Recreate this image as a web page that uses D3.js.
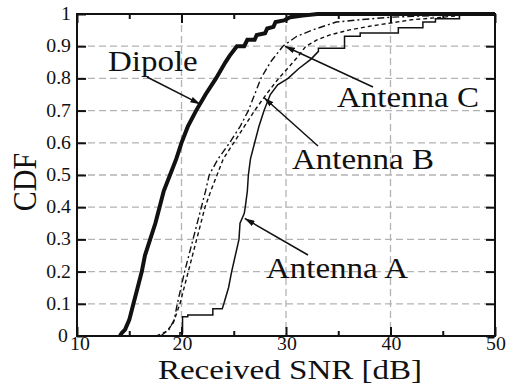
<!DOCTYPE html>
<html>
<head>
<meta charset="utf-8">
<script src="https://cdn.jsdelivr.net/npm/d3@7"></script>
<style>
  html, body { margin: 0; padding: 0; background: #fff; }
  svg { display: block; }
</style>
</head>
<body>
<svg id="chart" width="513" height="385" font-family="'Liberation Serif', 'Times New Roman', Times, serif"></svg>
<script>
// Empirical CDFs of received SNR, points as [SNR dB, CDF]
const dipole = [
  [14.1,0],[14.3,0.01],[14.6,0.02],[15.0,0.05],[15.4,0.1],[15.8,0.15],[16.2,0.2],
  [16.5,0.25],[17.0,0.3],[17.5,0.35],[17.9,0.4],[18.3,0.45],[18.9,0.5],[19.5,0.55],
  [20.0,0.6],[20.6,0.65],[21.4,0.7],[22.3,0.75],[23.3,0.8],[24.2,0.85],[24.6,0.87],
  [25.3,0.9],[26.0,0.9],[26.3,0.92],[27.0,0.92],[27.2,0.935],[28.0,0.94],[28.2,0.955],
  [28.8,0.96],[29.0,0.975],[29.8,0.98],[30.4,0.99],[31.6,0.995],[33.0,1.0],[50,1.0]
];
const antennaA = [
  [19.0,0],[19.85,0],[19.85,0.01],[20.1,0.01],[20.1,0.06],[20.6,0.06],[20.6,0.065],
  [23.0,0.065],[23.0,0.085],[23.9,0.085],[24.05,0.1],[24.5,0.15],[24.8,0.2],[25.15,0.25],
  [25.5,0.3],[25.6,0.35],[26.0,0.38],[26.1,0.4],[26.3,0.45],[26.4,0.5],[26.6,0.55],
  [27.0,0.6],[27.4,0.65],[27.9,0.7],[28.5,0.75],[29.2,0.78],[30.2,0.8],[31.2,0.83],
  [32.4,0.86],[33.1,0.884],[33.1,0.894],[35.6,0.894],[35.6,0.931],[37.1,0.931],
  [37.1,0.941],[40.75,0.941],[40.75,0.957],[43.1,0.957],[43.1,0.975],[44.3,0.975],
  [44.3,0.985],[46.6,0.985],[46.6,0.996],[47.8,0.996],[47.8,1.0],[50,1.0]
];
const antennaB = [
  [17.6,0],[18.6,0.015],[19.2,0.04],[19.85,0.1],[20.65,0.2],[21.45,0.3],[22.25,0.4],
  [22.8,0.45],[23.4,0.5],[24.0,0.55],[25.0,0.6],[26.0,0.65],[27.0,0.7],[28.1,0.75],
  [29.3,0.8],[30.4,0.84],[31.2,0.87],[31.9,0.9],[33.0,0.92],[34.2,0.935],[36.0,0.95],
  [38.0,0.962],[40.0,0.972],[42.0,0.982],[45.0,0.99],[48.0,1.0],[50,1.0]
];
const antennaC = [
  [18.0,0],[18.8,0.02],[19.3,0.05],[19.6,0.1],[20.3,0.2],[21.1,0.3],[21.9,0.4],
  [22.3,0.45],[22.65,0.5],[23.5,0.55],[24.6,0.6],[25.6,0.65],[26.4,0.7],[27.0,0.75],
  [27.6,0.8],[28.5,0.85],[29.7,0.9],[31.0,0.93],[32.5,0.95],[34.8,0.975],[37.0,0.982],
  [40.0,0.99],[44.0,0.995],[47.0,1.0],[50,1.0]
];

const xTickValues = [10, 20, 30, 40, 50];
const xMinorTicks = [15, 25, 35, 45];
const yTickValues = [0, 0.1, 0.2, 0.3, 0.4, 0.5, 0.6, 0.7, 0.8, 0.9, 1];
const yTickLabels = ["0", "0.1", "0.2", "0.3", "0.4", "0.5", "0.6", "0.7", "0.8", "0.9", "1"];
const gridX = [20, 30, 40];
const xTitle = "Received SNR [dB]";
const yTitle = "CDF";

const FONT = "'Liberation Serif', 'Times New Roman', Times, serif";
const svg = d3.select("#chart");
const plot = { left: 77, right: 495, top: 14, bottom: 336 };
const x = d3.scaleLinear().domain([10, 50]).range([plot.left, plot.right]);
const y = d3.scaleLinear().domain([0, 1]).range([plot.bottom, plot.top]);
const STRETCH = 1.1; // glyphs are drawn slightly wide

function label(g, px, py, str, size, anchor, stretch) {
  return g.append("text")
    .attr("transform", `translate(${px},${py}) scale(${stretch || STRETCH},1)`)
    .attr("font-family", FONT)
    .attr("font-size", size)
    .attr("fill", "#111")
    .attr("text-anchor", anchor || "start")
    .text(str);
}

// grid
const grid = svg.append("g").attr("stroke", "#b3b3b3").attr("stroke-width", 1.3)
  .attr("stroke-dasharray", "7,4");
yTickValues.filter(v => v > 0 && v < 1).forEach(v => {
  grid.append("line").attr("x1", plot.left).attr("x2", plot.right)
    .attr("y1", y(v)).attr("y2", y(v));
});
gridX.forEach(v => {
  grid.append("line").attr("x1", x(v)).attr("x2", x(v))
    .attr("y1", plot.top).attr("y2", plot.bottom);
});

// curves
const line = d3.line().x(d => x(d[0])).y(d => y(d[1]));
const curves = svg.append("g").attr("fill", "none").attr("stroke", "#111")
  .attr("stroke-linejoin", "miter");
curves.append("path").datum(antennaC).attr("d", line)
  .attr("stroke-width", 1.4).attr("stroke-dasharray", "7,3,2,3");
curves.append("path").datum(antennaB).attr("d", line)
  .attr("stroke-width", 1.4).attr("stroke-dasharray", "4,3");
curves.append("path").datum(antennaA).attr("d", line)
  .attr("stroke-width", 1.5);
curves.append("path").datum(dipole).attr("d", line)
  .attr("stroke-width", 4);

// frame and inward ticks
const axes = svg.append("g").attr("stroke", "#111").attr("stroke-width", 2);
axes.append("rect").attr("x", plot.left).attr("y", plot.top)
  .attr("width", plot.right - plot.left).attr("height", plot.bottom - plot.top)
  .attr("fill", "none");
const bottomAxis = d3.axisBottom(x).tickValues(xTickValues).tickSize(-9).tickFormat("");
const topAxis = d3.axisTop(x).tickValues(xTickValues).tickSize(-9).tickFormat("");
const leftAxis = d3.axisLeft(y).tickValues(yTickValues).tickSize(-9).tickFormat("");
const rightAxis = d3.axisRight(y).tickValues(yTickValues).tickSize(-9).tickFormat("");
const minorB = d3.axisBottom(x).tickValues(xMinorTicks).tickSize(-5).tickFormat("");
const minorT = d3.axisTop(x).tickValues(xMinorTicks).tickSize(-5).tickFormat("");
[[bottomAxis, `0,${plot.bottom}`], [minorB, `0,${plot.bottom}`],
 [topAxis, `0,${plot.top}`], [minorT, `0,${plot.top}`],
 [leftAxis, `${plot.left},0`], [rightAxis, `${plot.right},0`]].forEach(([ax, tr]) => {
  const g = svg.append("g").attr("transform", `translate(${tr})`).call(ax);
  g.select(".domain").remove();
  g.selectAll(".tick line").attr("stroke", "#111").attr("stroke-width", 2);
});

// tick labels (the corner "0" and "10" are nudged apart)
const labels = svg.append("g");
yTickValues.forEach((v, i) => {
  label(labels, plot.left - (v === 0 ? 9 : 6), y(v) + 6, yTickLabels[i], 18, "end");
});
xTickValues.forEach((v, i) => {
  label(labels, x(v) + (i === 0 ? 3 : 1), 349.5, String(v), 18, "middle");
});

// axis titles
label(labels, 290, 378.8, xTitle, 28, "middle", 1.18);
labels.append("text")
  .attr("transform", `translate(36,182) rotate(-90) scale(1,${STRETCH})`)
  .attr("font-family", FONT).attr("fill", "#111")
  .attr("font-size", 30).attr("text-anchor", "middle").text(yTitle);

// annotations with arrows
svg.append("defs").append("marker")
  .attr("id", "head").attr("viewBox", "0 0 10 6").attr("refX", 10).attr("refY", 3)
  .attr("markerWidth", 10).attr("markerHeight", 6).attr("markerUnits", "userSpaceOnUse")
  .attr("orient", "auto")
  .append("path").attr("d", "M0,0 L10,3 L0,6 Z").attr("fill", "#111");

const notes = [
  { name: "Dipole", tx: 108, ty: 71, from: [147, 77], to: [21.8, 0.72] },
  { name: "Antenna C", tx: 337, ty: 107, from: [373, 87], to: [29.9, 0.9] },
  { name: "Antenna B", tx: 292, ty: 169, from: [318, 146], to: [27.9, 0.74] },
  { name: "Antenna A", tx: 266, ty: 278, from: [308, 255], to: [26.05, 0.365] }
];
const ann = svg.append("g");
notes.forEach(n => {
  ann.append("line")
    .attr("x1", n.from[0]).attr("y1", n.from[1])
    .attr("x2", x(n.to[0])).attr("y2", y(n.to[1]))
    .attr("stroke", "#111").attr("stroke-width", 1.5)
    .attr("marker-end", "url(#head)");
  label(ann, n.tx, n.ty, n.name, 30, "start");
});
</script>
</body>
</html>
